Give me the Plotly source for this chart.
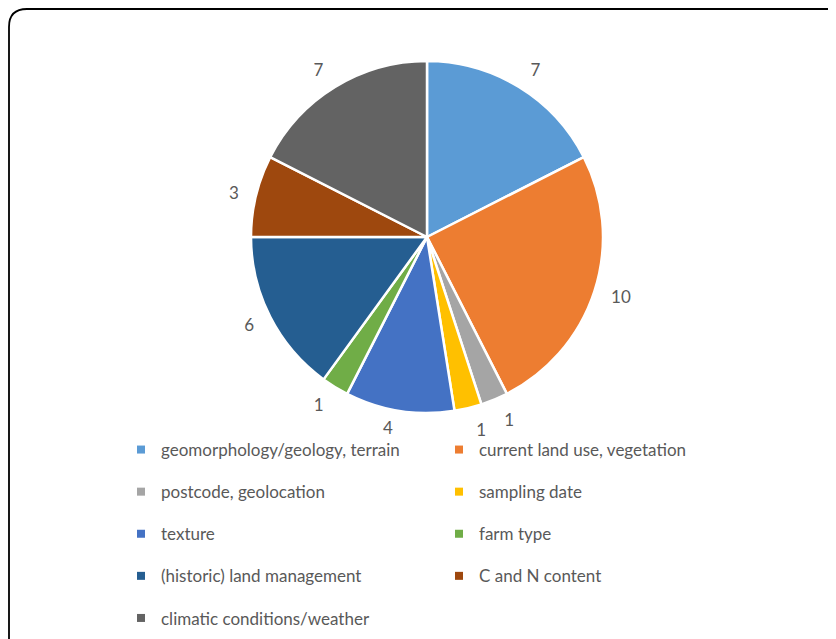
import plotly.graph_objects as go

categories = [
    "geomorphology/geology, terrain",
    "current land use, vegetation",
    "postcode, geolocation",
    "sampling date",
    "texture",
    "farm type",
    "(historic) land management",
    "C and N content",
    "climatic conditions/weather",
]
counts = [7, 10, 1, 1, 4, 1, 6, 3, 7]
colors = ["#5B9BD5", "#ED7D31", "#A5A5A5", "#FFC000", "#4472C4",
          "#70AD47", "#255E91", "#9E480E", "#636363"]

W, H = 836, 639
OFF = 8  # page body margin offset
FONT = "Lato"
GREY = "#595959"

def px_x(x):
    return (x - OFF) / W

def px_y(y):
    return 1 - (y - OFF) / H

cx, cy, r = 427, 237, 176

fig = go.Figure()

# main pie
fig.add_trace(go.Pie(
    labels=categories, values=counts, sort=False, direction="clockwise",
    rotation=0, marker=dict(colors=colors, line=dict(color="white", width=2.5)),
    textinfo="none", showlegend=False, hoverinfo="label+value",
    domain=dict(x=[px_x(cx - r), px_x(cx + r)], y=[px_y(cy + r), px_y(cy - r)]),
))

# transparent pies used only to place the outside value labels
# (split so that neighbouring small-slice labels are not pushed apart)
label_sets = [
    ([0, 1, 2, 5, 6, 7, 8], 188),
    ([3], 188),
    ([4], 183),
]
for shown, r_txt in label_sets:
    fig.add_trace(go.Pie(
        labels=categories, values=counts, sort=False, direction="clockwise",
        rotation=0,
        marker=dict(colors=["rgba(0,0,0,0)"] * len(counts), line=dict(width=0)),
        text=[str(v) if i in shown else "" for i, v in enumerate(counts)],
        textinfo="text", textposition="outside",
        outsidetextfont=dict(family=FONT, size=17, color=GREY),
        showlegend=False, hoverinfo="skip",
        domain=dict(x=[px_x(cx - r_txt), px_x(cx + r_txt)],
                    y=[px_y(cy + r_txt), px_y(cy - r_txt)]),
    ))

# legend entries (two columns)
for i, (name, col) in enumerate(zip(categories, colors)):
    fig.add_trace(go.Scatter(
        x=[None], y=[None], mode="markers", name=name,
        marker=dict(symbol="square", size=8, color=col),
        legendgroup=name, legend="legend" if i % 2 == 0 else "legend2",
        hoverinfo="skip",
    ))

legend_common = dict(
    orientation="v", traceorder="grouped", tracegroupgap=17,
    font=dict(family=FONT, size=17, color=GREY), bgcolor="rgba(0,0,0,0)",
    yanchor="top", xanchor="left", itemclick=False, itemdoubleclick=False,
)

# rounded border (left and top edges visible), kept inside the figure area
x0, y0, rad = OFF + 1, OFF + 1, 18
path = (f"M {px_x(x0)},{px_y(H + 30)} L {px_x(x0)},{px_y(y0 + rad)} "
        f"Q {px_x(x0)},{px_y(y0)} {px_x(x0 + rad)},{px_y(y0)} L {px_x(W + 30)},{px_y(y0)}")

fig.update_layout(
    width=W, height=H,
    margin=dict(l=0, r=0, t=0, b=0),
    paper_bgcolor="white", plot_bgcolor="white",
    xaxis=dict(visible=False), yaxis=dict(visible=False),
    legend=dict(legend_common, x=px_x(121), y=px_y(432)),
    legend2=dict(legend_common, x=px_x(439), y=px_y(432)),
    shapes=[dict(type="path", path=path, xref="paper", yref="paper",
                 line=dict(color="black", width=1.8))],
)

fig.write_html("out.html")
